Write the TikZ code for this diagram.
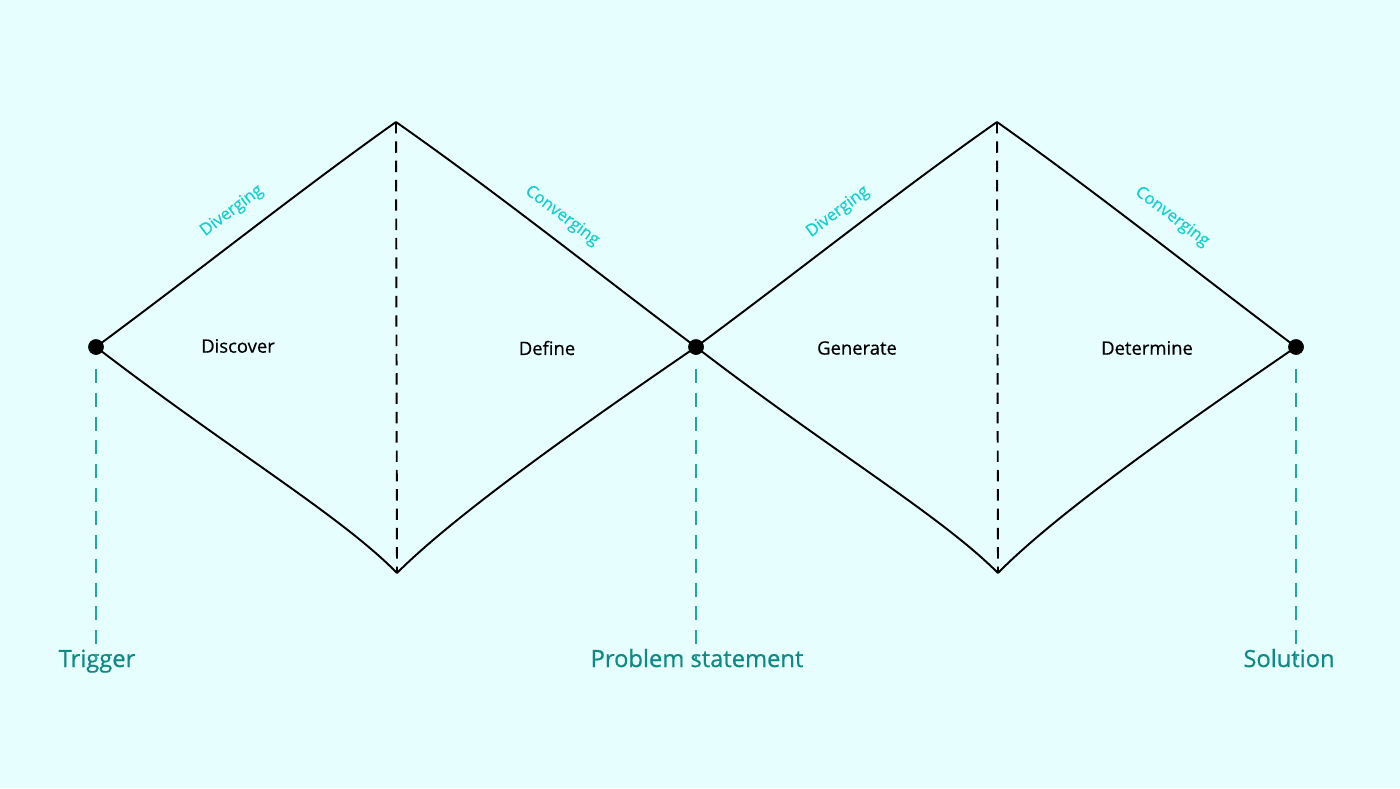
\documentclass[tikz,border=0pt]{standalone}
\usepackage{fontspec}
\setmainfont{Open Sans}
\newfontfamily\heavyish[FakeBold=0.6]{Open Sans}
\usetikzlibrary{positioning}
\usepackage{xcolor}

\definecolor{bgcyan}{HTML}{E6FEFD}
\definecolor{lighttq}{HTML}{16CFCF}
\definecolor{darktq}{HTML}{0E8A84}
\definecolor{dashtq}{HTML}{1BA9A2}

\tikzset{
  dot/.style={circle, fill=black, inner sep=0pt, minimum size=0.31cm},
  edge/.style={black, line width=1.1pt},
  midline/.style={black, line width=1.1pt, dash pattern=on 6.5pt off 4.5pt},
  stem/.style={dashtq, line width=1.2pt, dash pattern=on 8pt off 5.5pt},
  phase/.style={font=\heavyish\fontsize{10.5}{12}\selectfont, text=black},
  mode/.style={font=\heavyish\fontsize{9.5}{11}\selectfont, text=lighttq},
  milestone/.style={font=\heavyish\fontsize{13.5}{16}\selectfont, text=darktq, anchor=base}
}

\begin{document}
\begin{tikzpicture}[x=0.02cm, y=-0.02cm]
  % canvas
  \fill[bgcyan] (0,0) rectangle (1400,788);
  \useasboundingbox (0,0) rectangle (1400,788);

  % main points
  \node[dot] (trigger) at (96,347) {};
  \node[dot] (problem) at (696,347) {};
  \node[dot] (solution) at (1296,347) {};
  \coordinate (topA) at (396,122);
  \coordinate (botA) at (397,573);
  \coordinate (topB) at (997,122);
  \coordinate (botB) at (998,573);

  % first diamond
  \draw[edge] (trigger.center) .. controls (200,270) and (300,190) .. (topA);
  \draw[edge] (topA) .. controls (500,195) and (600,275) .. (problem.center);
  \draw[edge] (trigger.center) .. controls (230,450) and (340,515) .. (botA);
  \draw[edge] (botA) .. controls (450,520) and (560,440) .. (problem.center);
  \draw[midline] (topA) -- (botA);

  % second diamond
  \draw[edge] (problem.center) .. controls (800,270) and (900,190) .. (topB);
  \draw[edge] (topB) .. controls (1100,195) and (1200,275) .. (solution.center);
  \draw[edge] (problem.center) .. controls (830,450) and (940,515) .. (botB);
  \draw[edge] (botB) .. controls (1050,520) and (1160,440) .. (solution.center);
  \draw[midline] (topB) -- (botB);

  % redraw dots on top
  \node[dot] at (trigger) {};
  \node[dot] at (problem) {};
  \node[dot] at (solution) {};

  % phases
  \node[phase] (discover) at (238,346) {Discover};
  \node[phase] (define) at (547,348) {Define};
  \node[phase] (generate) at (857,348) {Generate};
  \node[phase] (determine) at (1147,348) {Determine};

  % modes
  \node[mode, rotate=37] (divA) at (232,211) {Diverging};
  \node[mode, rotate=-37] (conA) at (562,216) {Converging};
  \node[mode, rotate=37] (divB) at (838,212) {Diverging};
  \node[mode, rotate=-37] (conB) at (1172,217) {Converging};

  % milestones
  \node[milestone] (triggerlbl) at (97,667) {Trigger};
  \node[milestone] (problemlbl) at (697,667) {Problem statement};
  \node[milestone] (solutionlbl) at (1289,667) {Solution};

  \draw[stem] ([yshift=-0.28cm]trigger.south) -- ([yshift=-0.35cm]trigger.south |- triggerlbl.north);
  \draw[stem] ([yshift=-0.28cm]problem.south) -- ([yshift=-0.35cm]problem.south |- problemlbl.north);
  \draw[stem] ([yshift=-0.28cm]solution.south) -- ([yshift=-0.35cm]solution.south |- solutionlbl.north);
\end{tikzpicture}
\end{document}
